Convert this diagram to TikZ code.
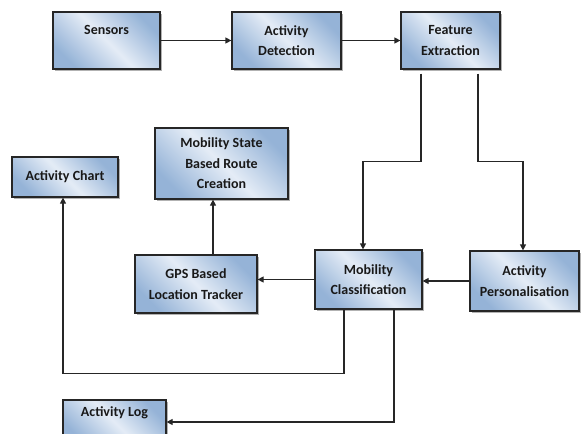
\documentclass[tikz,border=0pt]{standalone}
\usepackage{fontspec}
\setmainfont{Carlito}
\usetikzlibrary{shadows,arrows.meta}
\definecolor{boxdark}{HTML}{95B3D7}
\definecolor{boxlight}{HTML}{E4ECF6}
\definecolor{edge}{HTML}{262626}
\tikzset{
  blk/.style={draw=edge, line width=1.2pt, rectangle, align=center,
    top color=boxdark, bottom color=boxdark, middle color=boxlight,
    shading angle=-45, inner sep=0pt,
    font=\bfseries\fontsize{14}{20.5}\selectfont, text=black!90,
    drop shadow={shadow xshift=1.5pt, shadow yshift=-2pt, fill=black, opacity=.3}},
  wire/.style={draw=edge, line width=1.2pt, -{Triangle[length=6pt,width=6pt]}},
}
\begin{document}
\begin{tikzpicture}[x=1pt,y=-1pt]
\useasboundingbox (0,0) rectangle (582,434);

% processing blocks
\node[blk, minimum width=107pt, minimum height=57pt] (sensors) at (106.5,40.5) {Sensors\\\mbox{}};
\node[blk, minimum width=109pt, minimum height=57pt] (detect)  at (286.5,40.5) {Activity\\Detection};
\node[blk, minimum width=99pt,  minimum height=57pt] (feature) at (450.5,40.5) {Feature\\Extraction};
\node[blk, minimum width=106pt, minimum height=40pt] (chart)   at (65,177) {Activity Chart};
\node[blk, minimum width=133pt, minimum height=71pt] (route)   at (221.5,163.5) {Mobility State\\Based Route\\Creation};
\node[blk, minimum width=122pt, minimum height=58pt] (gps)     at (196,284) {GPS Based\\Location Tracker};
\node[blk, minimum width=107pt, minimum height=59pt] (mobcls)  at (368.5,279.5) {Mobility\\Classification};
\node[blk, minimum width=109pt, minimum height=60pt] (pers)    at (524.5,281) {Activity\\Personalisation};
\node[blk, minimum width=103pt, minimum height=44pt] (log)     at (114.5,422) {Activity Log\\\mbox{}};

% data flow
\draw[wire] (sensors) -- (detect);
\draw[wire] (detect) -- (feature);
\draw[wire, shorten <=4pt] ([xshift=-29.5pt]feature.south) |- ([xshift=-5.5pt,yshift=88pt]mobcls.north) -- ([xshift=-5.5pt]mobcls.north);
\draw[wire, shorten <=4pt] ([xshift=27.5pt]feature.south) |- ([xshift=-1.5pt,yshift=89pt]pers.north) -- ([xshift=-1.5pt]pers.north);
\draw[wire] (pers.west) -- (pers.west -| mobcls.east);
\draw[wire] (mobcls.west) -- (mobcls.west -| gps.east);
\draw[wire] ([xshift=17pt]gps.north) -- ([xshift=17pt]gps.north |- route.south);
\draw[wire] ([xshift=-24.5pt]mobcls.south) |- ([xshift=-2pt,yshift=-176pt]chart.south) -- ([xshift=-2pt]chart.south);
\draw[wire] ([xshift=25.5pt]mobcls.south) |- (log.east);
\end{tikzpicture}
\end{document}
